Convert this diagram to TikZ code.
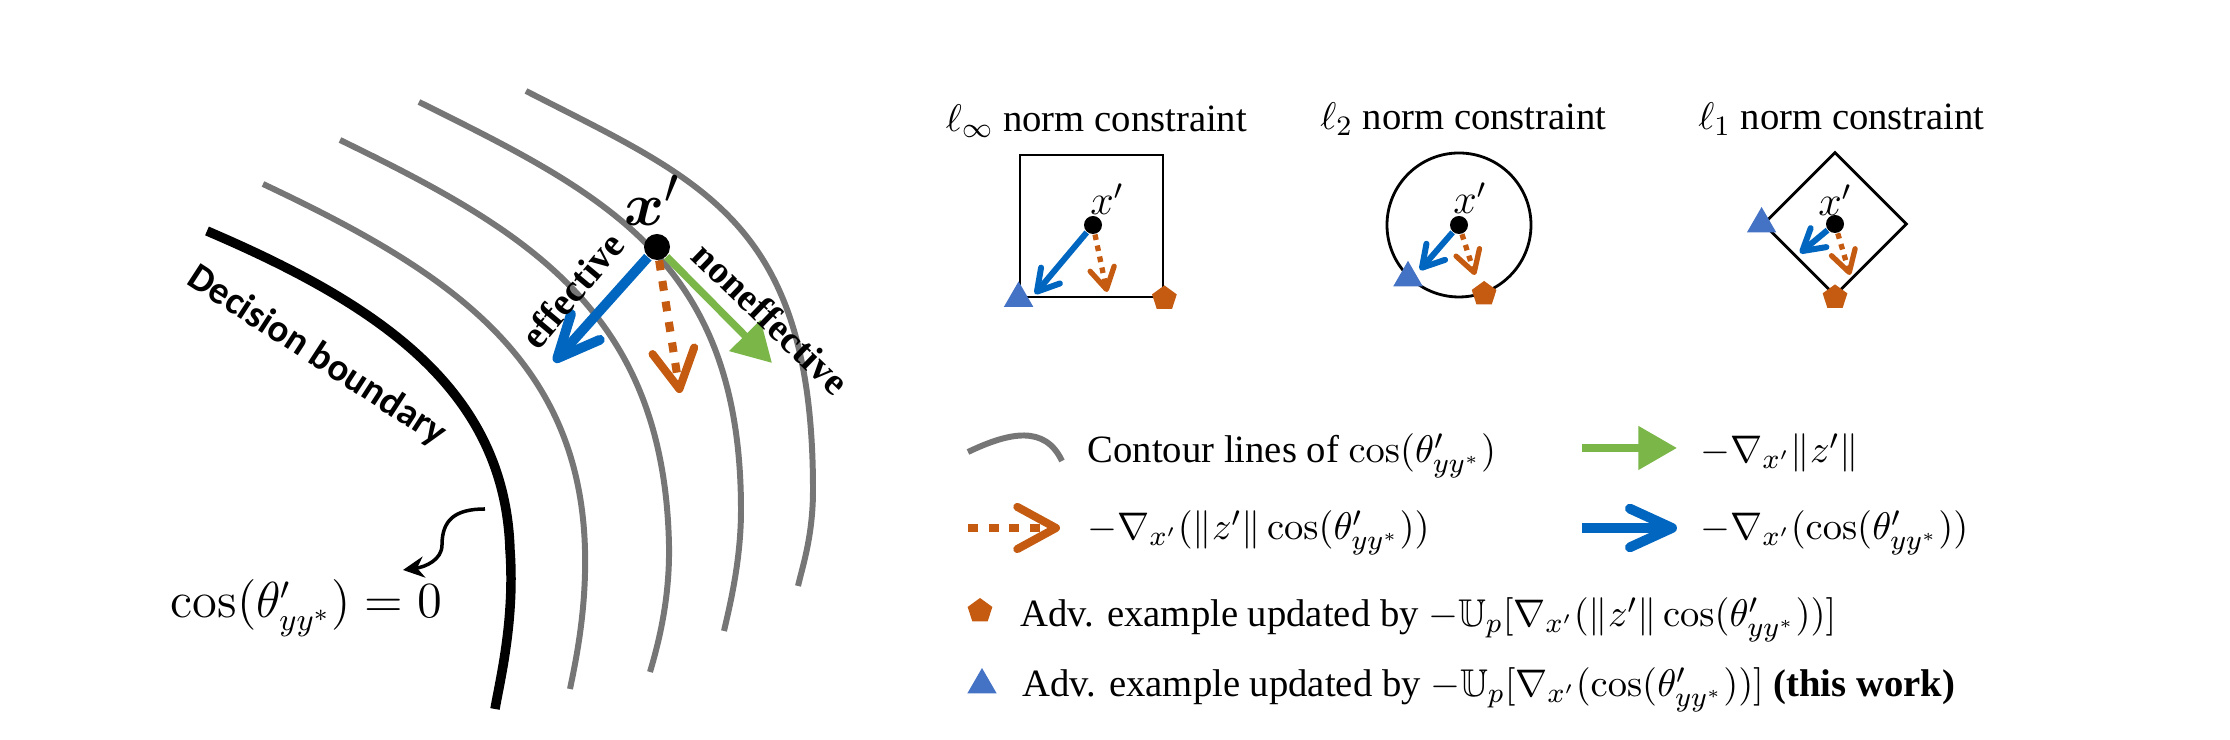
\documentclass[tikz,border=0pt]{standalone}
\usepackage{amsmath, amssymb}
\usepackage[no-math]{fontspec}
\setmainfont{Liberation Serif}
\newfontfamily\calibfont{Carlito}
\usetikzlibrary{shapes.geometric, arrows.meta, positioning, calc}
\definecolor{effblue}{RGB}{0,102,192}
\definecolor{triblue}{RGB}{68,114,196}
\definecolor{advorange}{RGB}{197,90,17}
\definecolor{nongreen}{RGB}{122,182,72}
\definecolor{contgray}{RGB}{118,118,118}
\tikzset{
    contour_line/.style={draw=contgray, line width=1.7pt},
    boundary_line/.style={draw=black, line width=2.7pt},
    arrow_eff/.style={
        draw=effblue, line width=2.8pt,
        -{Straight Barb[length=12pt, width=11pt, round]}
    },
    arrow_grad/.style={
        draw=advorange, line width=2.3pt, dash pattern=on 2.8pt off 3.1pt,
        -{Straight Barb[length=11pt, width=12pt, round]}
    },
    arrow_non/.style={
        draw=nongreen, line width=2.1pt, -{Triangle[length=11pt, width=12pt]}
    },
    arrow_eff_sm/.style={
        draw=effblue, line width=1.7pt,
        -{Straight Barb[length=6pt, width=7pt, round]}
    },
    arrow_grad_sm/.style={
        draw=advorange, line width=1.5pt, dash pattern=on 1.6pt off 1.6pt,
        -{Straight Barb[length=6pt, width=7pt, round]}
    },
    dot_big/.style={circle, fill=black, inner sep=0pt, minimum size=0.26cm},
    dot_sm/.style={circle, fill=black, inner sep=0pt, minimum size=0.18cm},
    mark_tri/.style={regular polygon, regular polygon sides=3, fill=triblue,
        inner sep=0pt, minimum size=0.34cm},
    mark_pent/.style={regular polygon, regular polygon sides=5, fill=advorange,
        inner sep=0pt, minimum size=0.26cm},
    ball/.style={draw=black, line width=0.8pt, inner sep=0pt},
    lbl_norm/.style={font=\fontsize{11}{13}\selectfont, anchor=base, inner sep=0pt},
    lbl_leg/.style={font=\fontsize{11}{13}\selectfont, anchor=base west, inner sep=0pt},
    lbl_bold/.style={font=\bfseries\fontsize{11}{13}\selectfont, inner sep=0pt},
    lbl_xp/.style={font=\fontsize{12}{14}\selectfont, inner sep=0pt}
}

\begin{document}
\begin{tikzpicture}
    \useasboundingbox (0,0) rectangle (22.3,7.4);

    % Decision boundary and contour lines
    \draw[boundary_line] (2.07,5.09) .. controls (3.80,4.35) and (5.05,3.50) .. (5.10,1.90) .. controls (5.15,1.20) and (5.00,0.60) .. (4.95,0.31);
    \draw[contour_line] (2.63,5.56) .. controls (4.43,4.71) and (5.80,3.85) .. (5.85,1.90) .. controls (5.865,1.30) and (5.76,0.80) .. (5.70,0.51);
    \draw[contour_line] (3.40,6.00) .. controls (5.25,5.10) and (6.64,4.30) .. (6.69,1.95) .. controls (6.70,1.40) and (6.58,0.95) .. (6.50,0.68);
    \draw[contour_line] (4.19,6.38) .. controls (6.04,5.46) and (7.41,4.80) .. (7.41,2.30) .. controls (7.41,1.80) and (7.30,1.35) .. (7.24,1.09);
    \draw[contour_line] (5.26,6.49) .. controls (7.01,5.59) and (8.13,5.20) .. (8.13,2.50) .. controls (8.13,2.05) and (8.03,1.75) .. (7.98,1.54);

    \node[font=\calibfont\bfseries\fontsize{11}{13}\selectfont, rotate=-33] (dbLbl) at (3.17,3.84) {Decision boundary};

    % Adversarial point and its update directions
    \node[dot_big] (xp) at (6.57,4.93) {};
    \node[font=\fontsize{19}{21}\selectfont, inner sep=0pt] (xpLbl) at (6.52,5.40) {$\boldsymbol{x}'$};
    \coordinate (effTip) at (5.54,3.78);
    \coordinate (gradTip) at (6.80,3.47);
    \coordinate (nonTip) at (7.72,3.77);
    \draw[arrow_eff] (xp) -- (effTip);
    \draw[arrow_grad] (xp) -- (gradTip);
    \draw[arrow_non] (xp) -- (nonTip);
    \node[lbl_bold, rotate=50] (effLbl) at (5.72,4.50) {effective};
    \node[lbl_bold, rotate=-44] (nonLbl) at (7.71,4.22) {noneffective};

    % Zero level label
    \node[anchor=base west, font=\fontsize{13.5}{16}\selectfont, inner sep=0pt] (cosLbl) at (1.70,1.22) {$\cos(\theta'_{yy^*})=0$};
    \coordinate (cvStart) at (4.85,2.31);
    \coordinate (cvEnd) at (4.03,1.70);
    \draw[line width=1pt, -{Stealth[length=6pt, width=6pt]}] (cvStart) .. controls (4.55,2.31) and (4.42,2.20) .. (4.42,1.95) .. controls (4.42,1.80) and (4.25,1.73) .. (cvEnd);

    % l_inf panel
    \node[lbl_norm] (infTitle) at (10.965,6.08) {$\ell_\infty$ norm constraint};
    \node[ball, minimum width=1.43cm, minimum height=1.42cm] (infBox) at (10.915,5.14) {};
    \node[dot_sm] (infX) at (10.93,5.15) {};
    \node[lbl_xp] (infXLbl) at (11.07,5.41) {$x'$};
    \coordinate (infEff) at (10.35,4.46);
    \coordinate (infGrad) at (11.07,4.48);
    \draw[arrow_eff_sm] (infX) -- (infEff);
    \draw[arrow_grad_sm] (infX) -- (infGrad);
    \node[mark_tri] (infTri) at (infBox.south west) {};
    \node[mark_pent] (infPent) at (infBox.south east) {};

    % l_2 panel
    \node[lbl_norm] (l2Title) at (14.635,6.10) {$\ell_2$ norm constraint};
    \node[ball, circle, minimum size=1.44cm] (l2Ball) at (14.59,5.15) {};
    \node[dot_sm] (l2X) at (l2Ball.center) {};
    \node[lbl_xp] (l2XLbl) at (14.70,5.42) {$x'$};
    \coordinate (l2Eff) at (14.20,4.70);
    \coordinate (l2Grad) at (14.75,4.65);
    \draw[arrow_eff_sm] (l2X) -- (l2Eff);
    \draw[arrow_grad_sm] (l2X) -- (l2Grad);
    \node[mark_tri] (l2Tri) at (l2Ball.226) {};
    \node[mark_pent] (l2Pent) at (l2Ball.290) {};

    % l_1 panel
    \node[lbl_norm] (l1Title) at (18.415,6.10) {$\ell_1$ norm constraint};
    \node[ball, diamond, minimum width=1.44cm, minimum height=1.44cm] (l1Ball) at (18.35,5.16) {};
    \node[dot_sm] (l1X) at (l1Ball.center) {};
    \node[lbl_xp] (l1XLbl) at (18.35,5.40) {$x'$};
    \coordinate (l1Eff) at (18.00,4.87);
    \coordinate (l1Grad) at (18.50,4.65);
    \draw[arrow_eff_sm] (l1X) -- (l1Eff);
    \draw[arrow_grad_sm] (l1X) -- (l1Grad);
    \node[mark_tri] (l1Tri) at (l1Ball.west) {};
    \node[mark_pent] (l1Pent) at (l1Ball.south) {};

    % Legend
    \draw[contour_line] (9.68,2.88) .. controls (10.10,3.08) and (10.45,3.15) .. (10.62,2.79);
    \node[lbl_leg] (legCont) at (10.87,2.77) {Contour lines of $\cos(\theta'_{yy^*})$};
    \coordinate (legNonA) at (15.82,2.92);
    \coordinate (legNonB) at (16.77,2.92);
    \draw[arrow_non] (legNonA) -- (legNonB);
    \node[lbl_leg] (legNon) at (17.00,2.77) {$-\nabla_{x'}\|z'\|$};

    \coordinate (legGradA) at (9.68,2.12);
    \coordinate (legGradB) at (10.60,2.12);
    \draw[arrow_grad] (legGradA) -- (legGradB);
    \node[lbl_leg] (legGrad) at (10.87,2.00) {$-\nabla_{x'}(\|z'\|\cos(\theta'_{yy^*}))$};
    \coordinate (legEffA) at (15.82,2.12);
    \coordinate (legEffB) at (16.77,2.12);
    \draw[arrow_eff] (legEffA) -- (legEffB);
    \node[lbl_leg] (legEff) at (17.00,2.00) {$-\nabla_{x'}(\cos(\theta'_{yy^*}))$};

    \node[mark_pent] (legPent) at (9.80,1.29) {};
    \node[lbl_leg] (legAdvA) at (10.20,1.13) {Adv. example updated by $-\mathbb{U}_p[\nabla_{x'}(\|z'\|\cos(\theta'_{yy^*}))]$};
    \node[mark_tri] (legTri) at (9.82,0.55) {};
    \node[lbl_leg] (legAdvB) at (10.22,0.43) {Adv. example updated by $-\mathbb{U}_p[\nabla_{x'}(\cos(\theta'_{yy^*}))]$ \textbf{(this work)}};
\end{tikzpicture}
\end{document}
